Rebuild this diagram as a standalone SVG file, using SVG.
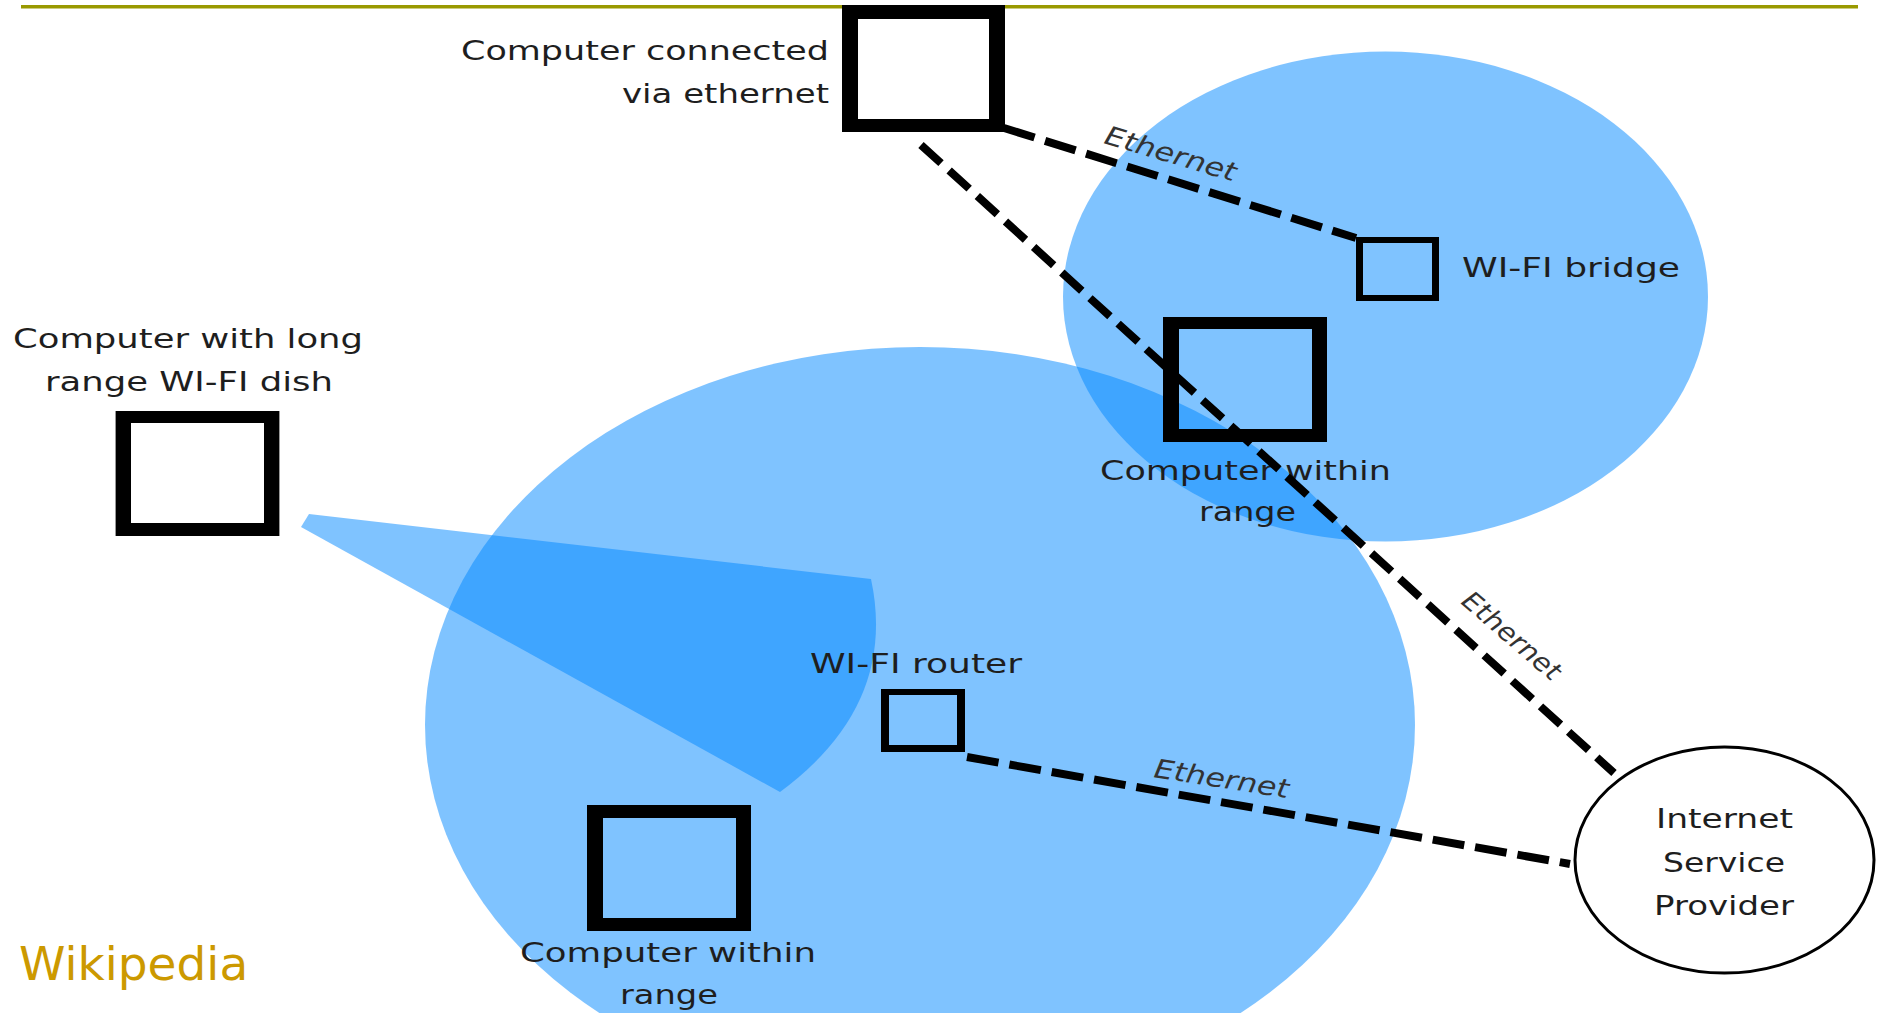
<svg xmlns="http://www.w3.org/2000/svg" width="1879" height="1013" viewBox="0 0 1879 1013">
<style>
.zone{fill:#0088FF;fill-opacity:0.5}
.frame{fill:#000;fill-rule:evenodd}
.lbl{font-family:"DejaVu Sans","Liberation Sans",sans-serif;font-size:26px;fill:#1e1e1e}
.eth{font-family:"DejaVu Sans","Liberation Sans",sans-serif;font-size:26px;font-style:italic;fill:#333}
.cable{stroke:#000;stroke-width:8;fill:none}
</style>
<rect width="1879" height="1013" fill="#fff"/>
<line x1="21" y1="6.7" x2="1858" y2="6.7" stroke="#999900" stroke-width="3.5"/>
<g id="coverage">
<ellipse class="zone" cx="920" cy="725" rx="495" ry="378"/>
<ellipse class="zone" cx="1385.5" cy="296.5" rx="322.5" ry="245"/>
<path class="zone" d="M309 514 L871 579 Q898 705 780 792 L301 527 Z"/>
</g>
<g id="computer-ethernet">
<path class="frame" d="M842 5H1005V132H842Z M858 19H989V119H858Z"/>
<text class="lbl" x="461" y="59.5" textLength="368" lengthAdjust="spacingAndGlyphs">Computer connected</text>
<text class="lbl" x="622" y="103" textLength="207" lengthAdjust="spacingAndGlyphs">via ethernet</text>
</g>
<g id="wifi-bridge">
<path class="frame" d="M1356 237H1439V301H1356Z M1363 243H1432V295H1363Z"/>
<text class="lbl" x="1462" y="277" textLength="218" lengthAdjust="spacingAndGlyphs">WI-FI bridge</text>
</g>
<g id="computer-dish">
<path class="frame" d="M115.6 411H279.4V536H115.6Z M131 423H264V523H131Z"/>
<text class="lbl" x="13" y="348" textLength="350" lengthAdjust="spacingAndGlyphs">Computer with long</text>
<text class="lbl" x="45" y="391" textLength="288" lengthAdjust="spacingAndGlyphs">range WI-FI dish</text>
</g>
<g id="computer-range-1">
<path class="frame" d="M1163 317H1327V442H1163Z M1179 329H1312V429H1179Z"/>
<text class="lbl" x="1100" y="480" textLength="291" lengthAdjust="spacingAndGlyphs">Computer within</text>
<text class="lbl" x="1199" y="521" textLength="97" lengthAdjust="spacingAndGlyphs">range</text>
</g>
<g id="wifi-router">
<path class="frame" d="M881 689H965V752H881Z M889 695H957V745H889Z"/>
<text class="lbl" x="810" y="673" textLength="212" lengthAdjust="spacingAndGlyphs">WI-FI router</text>
</g>
<g id="computer-range-2">
<path class="frame" d="M587 805H751V931H587Z M603 818H736V918H603Z"/>
<text class="lbl" x="520" y="962" textLength="296" lengthAdjust="spacingAndGlyphs">Computer within</text>
<text class="lbl" x="620" y="1004" textLength="98" lengthAdjust="spacingAndGlyphs">range</text>
</g>
<g id="isp">
<ellipse cx="1724.5" cy="860" rx="149.5" ry="113" fill="#fff" stroke="#000" stroke-width="3"/>
<text class="lbl" x="1656" y="828" textLength="137" lengthAdjust="spacingAndGlyphs">Internet</text>
<text class="lbl" x="1663" y="872" textLength="122" lengthAdjust="spacingAndGlyphs">Service</text>
<text class="lbl" x="1654" y="915" textLength="140" lengthAdjust="spacingAndGlyphs">Provider</text>
</g>
<g id="connectors">
<line class="cable" x1="1004" y1="128" x2="1356" y2="238" stroke-dasharray="32 11"/>
<line class="cable" x1="921" y1="145" x2="1614" y2="773" stroke-dasharray="27 11"/>
<line class="cable" x1="967" y1="757" x2="1570" y2="864" stroke-dasharray="32 11"/>
<text class="eth" transform="translate(1103 143) rotate(16.5)" textLength="136" lengthAdjust="spacingAndGlyphs">Ethernet</text>
<text class="eth" transform="translate(1460 603) rotate(40.7)" textLength="121" lengthAdjust="spacingAndGlyphs">Ethernet</text>
<text class="eth" transform="translate(1153 777) rotate(8.9)" textLength="136" lengthAdjust="spacingAndGlyphs">Ethernet</text>
</g>
<text x="19" y="980" font-family="DejaVu Sans, Verdana, sans-serif" font-size="47" fill="#CC9900">Wikipedia</text>
</svg>
